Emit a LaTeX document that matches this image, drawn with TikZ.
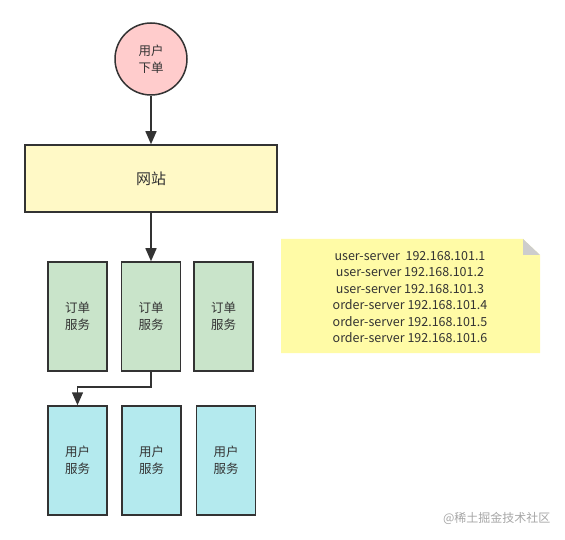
\documentclass[tikz,border=0pt]{standalone}
\usepackage{fontspec}
\setmainfont{Noto Sans CJK SC}
\usetikzlibrary{arrows.meta}

\definecolor{strokegray}{HTML}{333333}
\definecolor{pinkfill}{HTML}{FFCCCC}
\definecolor{sitefill}{HTML}{FFF9C6}
\definecolor{orderfill}{HTML}{C9E4CA}
\definecolor{userfill}{HTML}{B4EAEE}
\definecolor{notefill}{HTML}{FFFBA6}
\definecolor{foldgray}{HTML}{CDCDCD}

\tikzset{
	box/.style={draw=strokegray, line width=1.5pt, text=strokegray, align=center,
		font=\fontsize{12.5}{17}\selectfont},
	svc/.style={box, minimum width=59pt, minimum height=109pt, inner sep=0pt},
	link/.style={draw=strokegray, line width=1.5pt, -{Triangle[length=13pt,width=11pt]}}
}

\begin{document}
\begin{tikzpicture}[x=1pt,y=-1pt]
	\useasboundingbox (0,0) rectangle (565,540);

	\node (U) [box, circle, fill=pinkfill, minimum size=72pt, inner sep=0pt] at (151,59) {用户\\下单};
	\node (W) [box, fill=sitefill, minimum width=252pt, minimum height=67pt, font=\fontsize{15}{17}\selectfont] at (151,178.5) {网站};

	\node (O1) [svc, fill=orderfill] at (77.5,316.5) {订单\\服务};
	\node (O2) [svc, fill=orderfill] at (151,316.5) {订单\\服务};
	\node (O3) [svc, fill=orderfill] at (223.5,316.5) {订单\\服务};

	\node (S1) [svc, fill=userfill] at (77.5,460.5) {用户\\服务};
	\node (S2) [svc, fill=userfill] at (151.5,460.5) {用户\\服务};
	\node (S3) [svc, fill=userfill] at (226,460.5) {用户\\服务};

	\coordinate (K) at (151,387);

	\draw [link] (U) -- (W);
	\draw [link] (W) -- (O2);
	\draw [link] (O2.south) -- (K) -| (S1.north);

	\fill [notefill] (281,239) -- (523,239) -- (540,255) -- (540,353) -- (281,353) -- cycle;
	\fill [foldgray] (523,239) -- (540,255) -- (523,255) -- cycle;
	\node (N) [text=strokegray, align=center, font=\fontsize{12.5}{16.4}\selectfont] at (410,297) {
		user-server \ 192.168.101.1\\
		user-server 192.168.101.2\\
		user-server 192.168.101.3\\
		order-server 192.168.101.4\\
		order-server 192.168.101.5\\
		order-server 192.168.101.6};

	\node (M) [text=black!35, font=\fontsize{12}{13}\selectfont, anchor=east] at (554,518) {@稀土掘金技术社区};
\end{tikzpicture}
\end{document}
